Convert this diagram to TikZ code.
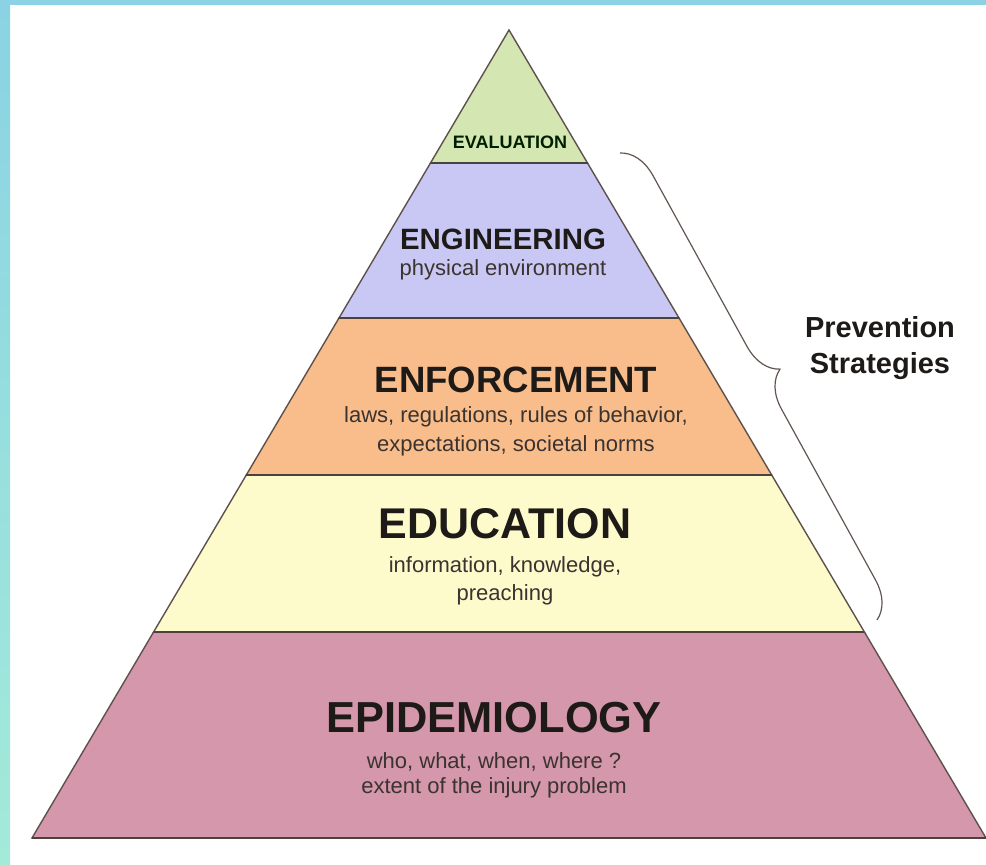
\documentclass[tikz,border=0pt]{standalone}
\usepackage{fontspec}
\setmainfont{Liberation Sans}
\usetikzlibrary{decorations.pathreplacing}
\definecolor{edgeColor}{HTML}{5E514C}
\definecolor{evalColor}{HTML}{D4E6B2}
\definecolor{engColor}{HTML}{C9C8F4}
\definecolor{enfColor}{HTML}{F8BD8A}
\definecolor{eduColor}{HTML}{FDFBCB}
\definecolor{epiColor}{HTML}{D597AB}
\definecolor{frameTop}{HTML}{8BD2E4}
\definecolor{frameBot}{HTML}{A3EAD9}
\definecolor{textColor}{HTML}{1E1A18}
\definecolor{subColor}{HTML}{3B3330}
\tikzset{
  layer/.style={draw=edgeColor, line width=0.7pt, line join=miter},
  cut/.style={draw=edgeColor!80!black, line width=1.4pt},
  title/.style={font=\bfseries, text=textColor, inner sep=0pt},
  sub/.style={text=subColor, align=center, inner sep=0pt},
}

\begin{document}
\begin{tikzpicture}[x=0.5pt,y=-0.5pt]
				\useasboundingbox (0,0) rectangle (986,865);
				\fill[white] (0,0) rectangle (986,865);
				% frame strips
				\shade[top color=frameTop, bottom color=frameBot] (0,0) rectangle (10,865);
				\fill[frameTop] (0,0) rectangle (986,5);
				
				% pyramid corners
				\coordinate (apex) at (509,30);
				\coordinate (l1) at (430.5,163); \coordinate (r1) at (587.5,163);
				\coordinate (l2) at (339,318);   \coordinate (r2) at (679,318);
				\coordinate (l3) at (246.3,475); \coordinate (r3) at (771.7,475);
				\coordinate (l4) at (153.6,632); \coordinate (r4) at (864.4,632);
				\coordinate (l5) at (32,838);    \coordinate (r5) at (986,838);
				
				\filldraw[layer, fill=evalColor] (apex) -- (r1) -- (l1) -- cycle;
				\filldraw[layer, fill=engColor] (l1) -- (r1) -- (r2) -- (l2) -- cycle;
				\filldraw[layer, fill=enfColor] (l2) -- (r2) -- (r3) -- (l3) -- cycle;
				\filldraw[layer, fill=eduColor] (l3) -- (r3) -- (r4) -- (l4) -- cycle;
				\filldraw[layer, fill=epiColor] (l4) -- (r4) -- (r5) -- (l5) -- cycle;
				\draw[cut] (l1) -- (r1);
				\draw[cut] (l2) -- (r2);
				\draw[cut] (l3) -- (r3);
				\draw[cut] (l4) -- (r4);
				\draw[cut] (l5) -- (r5);
				
				\node[title, font=\fontsize{9}{10}\bfseries\selectfont, text=black!70!green!40!black] (eval) at (510,142) {EVALUATION};
				\node[title, font=\fontsize{14.7}{16}\bfseries\selectfont] (engin) at (503,239) {ENGINEERING};
				\node[sub, font=\fontsize{11}{14}\selectfont] (enginSub) at (503,270) {physical environment};
				\node[title, font=\fontsize{18.3}{20}\bfseries\selectfont] (enforce) at (516,380) {ENFORCEMENT};
				\node[sub, font=\fontsize{11}{14.5}\selectfont] (enforceSub) at (516,431) {laws, regulations, rules of behavior,\\expectations, societal norms};
				\node[title, font=\fontsize{21.5}{23}\bfseries\selectfont] (edu) at (505,524) {EDUCATION};
				\node[sub, font=\fontsize{11}{14}\selectfont] (eduSub) at (505,581) {information, knowledge,\\preaching};
				\node[title, font=\fontsize{21.7}{23}\bfseries\selectfont] (epid) at (494,718) {EPIDEMIOLOGY};
				\node[sub, font=\fontsize{11}{12.5}\selectfont] (epidSub) at (494,775) {who, what, when, where ?\\extent of the injury problem};
				
				% brace over the prevention layers
				\coordinate (braceTop) at (620,153);
				\coordinate (braceBot) at (877,620);
				\draw[edgeColor!90!gray, line width=0.6pt, decorate, decoration={brace, amplitude=18pt}] (braceTop) -- (braceBot);
				\node[title, font=\fontsize{14.5}{18}\bfseries\selectfont, align=center] (prev) at (880,348) {Prevention\\Strategies};
\end{tikzpicture}
\end{document}
